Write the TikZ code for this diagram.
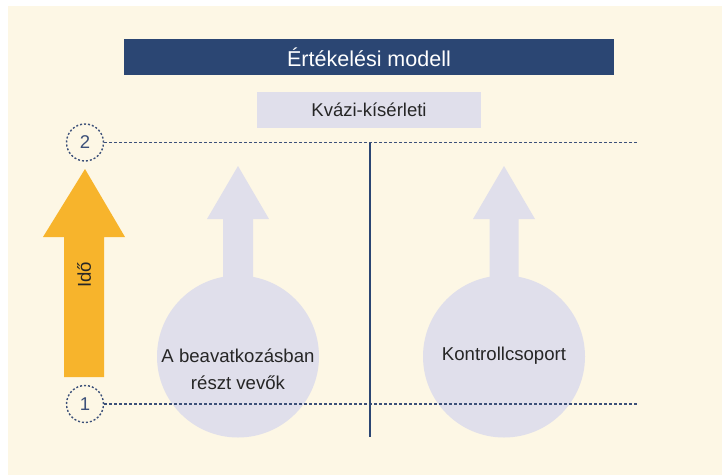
\documentclass[tikz,border=0pt]{standalone}
\usepackage{fontspec}
\setmainfont{Liberation Sans}
\definecolor{cream}{HTML}{FDF7E5}
\definecolor{titleblue}{HTML}{2B4673}
\definecolor{lav}{HTML}{E0DFEB}
\definecolor{orng}{HTML}{F7B42C}
\definecolor{dotc}{HTML}{3C5079}
\begin{document}
\begin{tikzpicture}[x=1pt,y=-1pt,
  titlebox/.style={fill=titleblue,text=white,minimum width=490pt,minimum height=36pt,inner sep=0pt,font=\fontsize{21.5}{24}\selectfont},
  subbox/.style={fill=lav,text=black!85,minimum width=224pt,minimum height=36pt,inner sep=0pt,font=\fontsize{18.5}{22}\selectfont},
  numcirc/.style={circle,draw=dotc,line width=1.4pt,dash pattern=on 2pt off 2pt,minimum size=37pt,inner sep=0pt,text=dotc,font=\fontsize{18.5}{22}\selectfont},
  group/.style={circle,fill=lav,minimum size=162pt,inner sep=0pt},
  lbl/.style={text=black!85,align=center,inner sep=0pt,font=\fontsize{18.6}{27}\selectfont},
  dotline/.style={draw=dotc,line width=1.4pt,dash pattern=on 3pt off 2pt},
  vline/.style={draw=titleblue,line width=2.6pt}]
\useasboundingbox (0,0) rectangle (722,475);
\fill[white] (0,0) rectangle (722,475);
\fill[cream] (8,6) rectangle (722,475);
% title and subtitle
\node[titlebox] (title) at (369,57) {Értékelési modell};
\node[subbox] (kvazi) at (369,110) {Kvázi-kísérleti};
% time arrow
\fill[orng] (85,169) -- (125,237) -- (104,237) -- (104,377) -- (64,377) -- (64,237) -- (43,237) -- cycle;
\node[lbl,rotate=90] (ido) at (84,275) {Idő};
% group arrows
\fill[lav] (238,166) -- (269,219) -- (253,219) -- (253,300) -- (223,300) -- (223,219) -- (207,219) -- cycle;
\fill[lav] (504,166) -- (535,219) -- (518.5,219) -- (518.5,300) -- (489.5,300) -- (489.5,219) -- (473,219) -- cycle;
\node[group] (g1) at (238,356.5) {};
\node[group] (g2) at (504,356.5) {};
\node[lbl] (g1t) at (238,369.5) {A beavatkozásban\\részt vevők};
\node[lbl] (g2t) at (504,356) {Kontrollcsoport};
% time points
\node[numcirc] (n2) at (85,142.5) {2};
\node[numcirc] (n1) at (85,404) {1};
\coordinate (e2) at (637,142.5);
\coordinate (e1) at (637,404);
\draw[dotline] (n2.east) -- (e2);
\draw[dotline] (n1.east) -- (e1);
% divider
\coordinate (vt) at (370,142.5);
\coordinate (vb) at (370,437);
\draw[vline] (vt) -- (vb);
\end{tikzpicture}
\end{document}
